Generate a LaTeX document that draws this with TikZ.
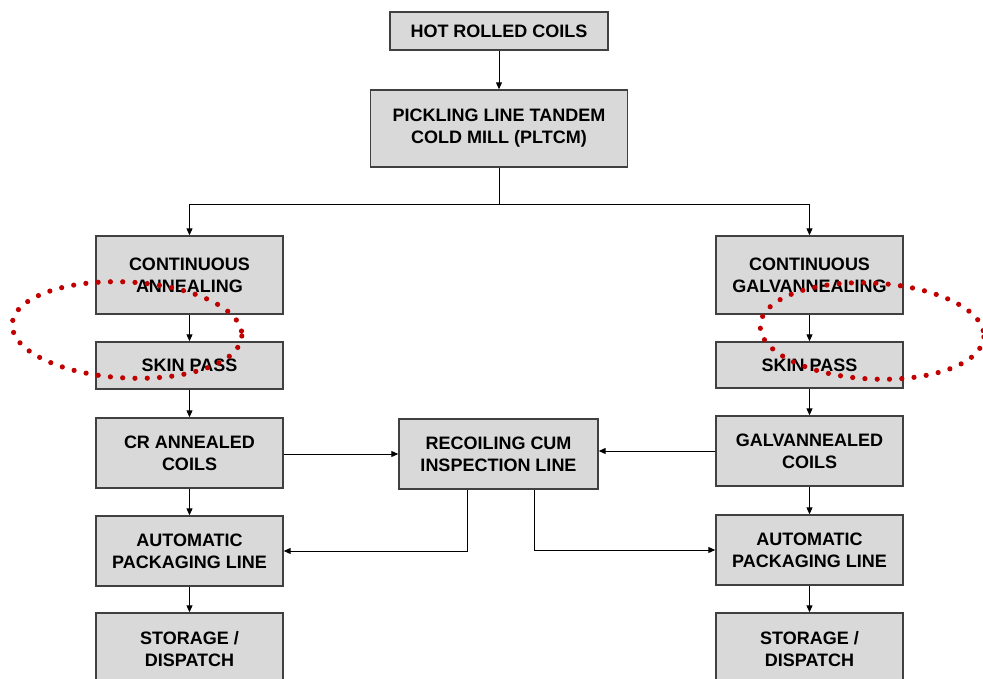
\documentclass[tikz,border=0pt]{standalone}
\usepackage{fontspec}
\setmainfont{Liberation Sans}
\usetikzlibrary{arrows.meta}
\definecolor{boxfill}{HTML}{D9D9D9}
\definecolor{boxline}{HTML}{404040}
\definecolor{dotred}{HTML}{C00000}
\begin{document}
\begin{tikzpicture}[x=1pt,y=-1pt,
  procbox/.style={draw=boxline,line width=1.4pt,fill=boxfill,align=center,
    font=\bfseries\fontsize{18}{22}\selectfont,inner sep=0pt},
  colbox/.style={procbox,minimum width=187pt},
  flow/.style={line width=1pt,-{Triangle[length=7pt,width=6pt]}},
  plain/.style={line width=1pt},
  marker/.style={draw=dotred,line width=5.2pt,line cap=round,dash pattern=on 0pt off 12.3pt}]
\useasboundingbox (0,0) rectangle (983,679);

% main line
\node[procbox,minimum width=218pt,minimum height=38pt] (hot) at (499,31) {HOT ROLLED COILS};
\node[procbox,minimum width=257pt,minimum height=77pt] (pltcm) at (499,128.5) {PICKLING LINE TANDEM\\COLD MILL (PLTCM)};

% cold rolled branch
\node[colbox,minimum height=78pt] (ca) at (189.5,275) {CONTINUOUS\\ANNEALING};
\node[colbox,minimum height=47pt] (spl) at (189.5,365.5) {SKIN PASS};
\node[colbox,minimum height=70pt] (cr) at (189.5,453) {CR ANNEALED\\COILS};
\node[colbox,minimum height=70pt] (apl) at (189.5,551) {AUTOMATIC\\PACKAGING LINE};
\node[colbox,minimum height=72pt] (stl) at (189.5,649) {STORAGE /\\DISPATCH};

% galvannealed branch
\node[colbox,minimum height=78pt] (cg) at (809.5,275) {CONTINUOUS\\GALVANNEALING};
\node[colbox,minimum height=46pt] (spr) at (809.5,365) {SKIN PASS};
\node[colbox,minimum height=70pt] (gc) at (809.5,451) {GALVANNEALED\\COILS};
\node[colbox,minimum height=70pt] (apr) at (809.5,550) {AUTOMATIC\\PACKAGING LINE};
\node[colbox,minimum height=72pt] (str) at (809.5,649) {STORAGE /\\DISPATCH};

% shared inspection line
\node[procbox,minimum width=199pt,minimum height=70pt] (rec) at (498.5,454) {RECOILING CUM\\INSPECTION LINE};

% connectors
\coordinate (split) at (pltcm.south |- 0,205);
\draw[flow] (hot) -- (pltcm);
\draw[plain] (pltcm.south) -- (split);
\draw[flow] (split) -| (ca.north);
\draw[flow] (split) -| (cg.north);
\draw[flow] (ca) -- (spl);
\draw[flow] (spl) -- (cr);
\draw[flow] (cr) -- (apl);
\draw[flow] (apl) -- (stl);
\draw[flow] (cg) -- (spr);
\draw[flow] (spr) -- (gc);
\draw[flow] (gc) -- (apr);
\draw[flow] (apr) -- (str);
\draw[flow] ([yshift=-1pt]cr.east) -- ([yshift=-1pt]cr.east -| rec.west);
\draw[flow] (gc.west) -- (gc.west -| rec.east);
\draw[flow] ([xshift=-31pt]rec.south) |- (apl.east);
\draw[flow] ([xshift=35.5pt]rec.south) |- (apr.west);

% dotted highlight rings around the skin pass steps
\draw[marker,rotate around={-3:(127,330)}] (127,330) ellipse [x radius=115, y radius=48];
\draw[marker,rotate around={-3:(872,331)}] (872,331) ellipse [x radius=112, y radius=48];
\end{tikzpicture}
\end{document}
